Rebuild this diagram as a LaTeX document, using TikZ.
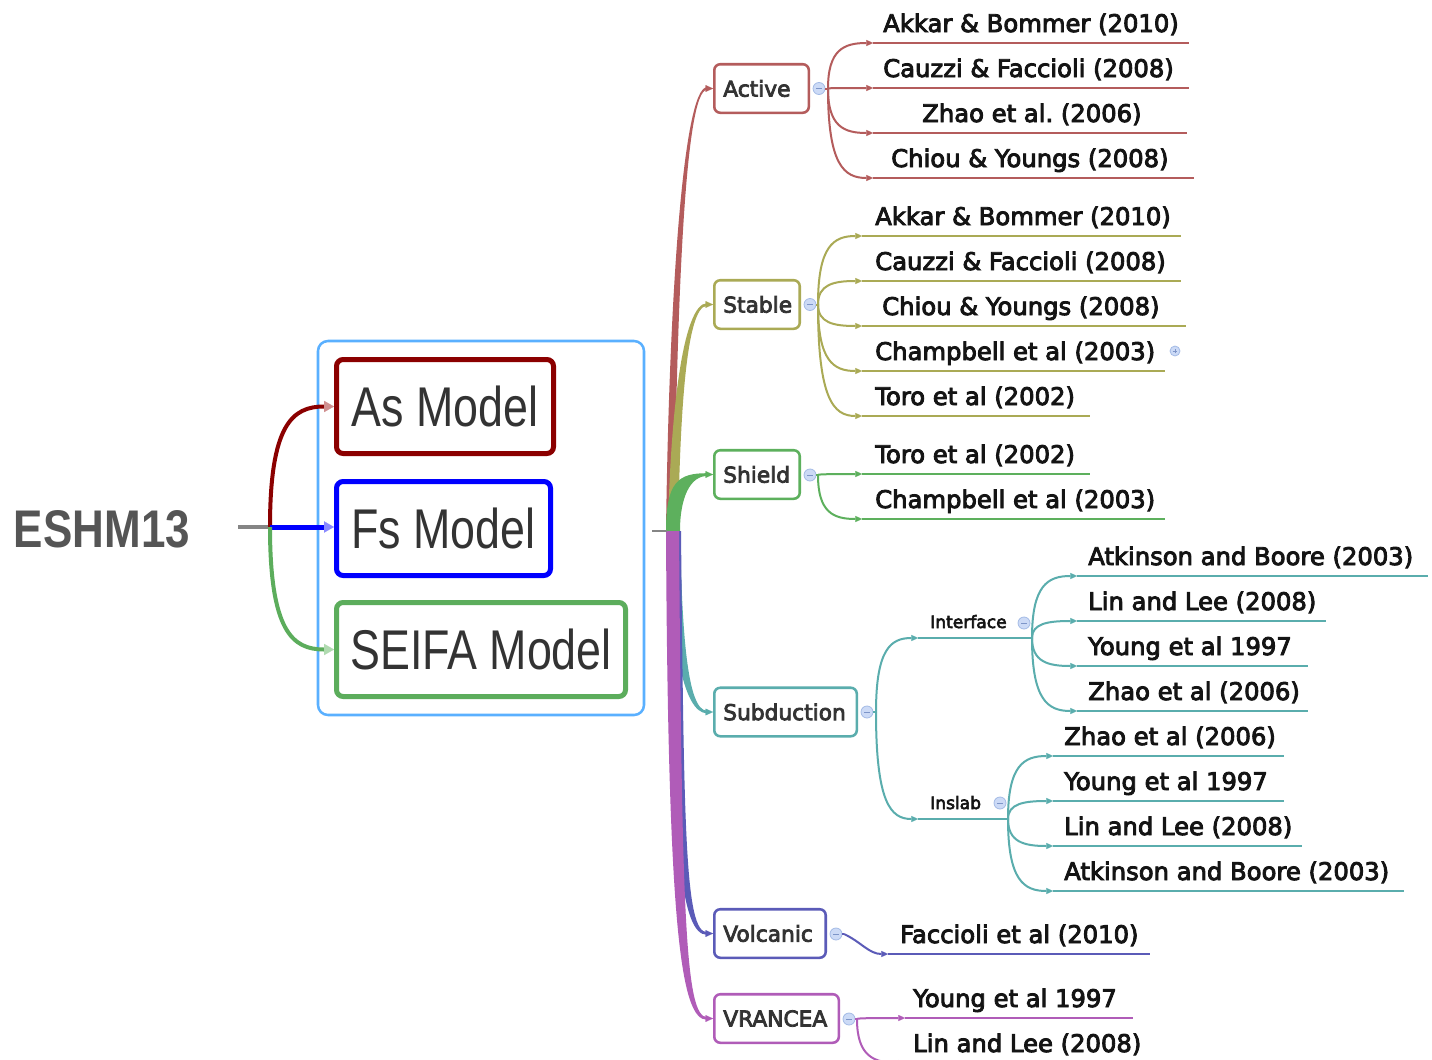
\documentclass[tikz,border=0pt]{standalone}
\usepackage{fontspec}
\usetikzlibrary{arrows.meta,calc,fit}
\newfontfamily\leaffont[FakeBold=3.6]{DejaVu Sans}
\newfontfamily\arialfont{Liberation Sans}
\frenchspacing

\definecolor{cA}{HTML}{B45C5C}
\definecolor{cS}{HTML}{AAAA55}
\definecolor{cSh}{HTML}{5DB05D}
\definecolor{cT}{HTML}{5AADAD}
\definecolor{cV}{HTML}{5B5BB8}
\definecolor{cVr}{HTML}{B05CB8}
\definecolor{dred}{HTML}{8B0000}
\definecolor{lred}{HTML}{D09090}
\definecolor{pblue}{HTML}{0000FF}
\definecolor{lblue}{HTML}{8A8AFF}
\definecolor{mgreen}{HTML}{5CAD5C}
\definecolor{lgreen}{HTML}{B0DAB0}
\definecolor{cBound}{HTML}{5AB0FF}
\definecolor{btnfill}{HTML}{CCDAF6}
\definecolor{btndraw}{HTML}{A4BBE6}
\definecolor{btnmark}{HTML}{7D95C8}
\definecolor{inkleaf}{HTML}{141414}
\definecolor{inknode}{HTML}{333333}
\definecolor{rootink}{HTML}{555555}
\definecolor{stubgray}{HTML}{858585}

\tikzset{
  bendto/.style={to path={.. controls ($(\tikztostart)!0.85!(\tikztostart|-\tikztotarget)$) and ($(\tikztotarget)!0.65!(\tikztostart|-\tikztotarget)$) .. (\tikztotarget)}},
  leaftip/.style={-{Triangle[length=5pt,width=4.6pt,line width=0.1pt]}},
  conn/.style={line width=1.5pt, leaftip},
  plainconn/.style={line width=1.5pt},
  leafline/.style={line width=1.9pt},
  leaftext/.style={font=\leaffont\fontsize{18.2}{21}\selectfont, text=inkleaf, inner sep=0pt},
  subtext/.style={font=\leaffont\fontsize{12.8}{15}\selectfont, text=inkleaf, inner sep=0pt},
  topic/.style={draw=#1, line width=1.9pt, rounded corners=4.5pt, fill=white,
    minimum height=36.4pt, inner xsep=6.75pt, inner ysep=0pt, align=left,
    font=\leaffont\fontsize{16.3}{19}\selectfont, text=inknode, anchor=west},
  btn/.style={circle, draw=btndraw, fill=btnfill, line width=0.6pt, minimum size=9pt, inner sep=0pt,
    path picture={\draw[btnmark, line width=0.6pt]
      ([xshift=-2.2pt]path picture bounding box.center) -- ([xshift=2.2pt]path picture bounding box.center);}},
  btnplus/.style={circle, draw=btndraw, fill=btnfill, line width=0.6pt, minimum size=7.5pt, inner sep=0pt,
    path picture={\draw[btnmark, line width=0.6pt]
      ([xshift=-1.8pt]path picture bounding box.center) -- ([xshift=1.8pt]path picture bounding box.center)
      ([yshift=-1.8pt]path picture bounding box.center) -- ([yshift=1.8pt]path picture bounding box.center);}},
  model/.style={draw=#1, line width=3.75pt, rounded corners=5pt, fill=white,
    minimum height=70.5pt, inner xsep=0pt, anchor=west,
    font=\arialfont\fontsize{42}{48}\selectfont, text=inknode},
  modeltip/.style={-{Triangle[length=7.5pt,width=8.5pt,line width=0.1pt,color=#1]}},
  branchtip/.style={-{Triangle[length=5.5pt,width=5pt,line width=0.1pt]}},
}

% one reference entry: arrow tip, underline, connector from the junction, title
\newcommand\mkleaf[8]{%
  \coordinate (#1) at (#4,#5);
  \draw[#2,leafline] (#1) -- ++(#6,0) coordinate (#1e);
  \draw[#2,conn] (#3) to[bendto] (#1);
  \node[leaftext,anchor=base west] (#1t) at (#7,#5-11) {#8};
}

\begin{document}
\begin{tikzpicture}[x=0.75pt,y=-0.75pt]
\fill[white] (0,0) rectangle (1432,1060);
\useasboundingbox (0,0) rectangle (1432,1060);

% ---------------- root and model boundary ----------------
\node[font=\arialfont\bfseries\fontsize{39.75}{44}\selectfont, text=rootink, inner sep=0pt]
  (root) at (102,529) {\scalebox{0.83}[1]{ESHM13}};
\coordinate (rootout) at (238,527);
\coordinate (jl) at (270,527);

\node[model=dred,   minimum width=162.75pt] (asm)   at (334,406.5) {\scalebox{0.8}[1]{As Model}};
\node[model=pblue,  minimum width=160.5pt]  (fsm)   at (334,528.5) {\scalebox{0.8}[1]{Fs Model}};
\node[model=mgreen, minimum width=216.75pt] (seifa) at (334,649.5) {\scalebox{0.8}[1]{SEIFA Model}};
\node[draw=cBound, line width=1.9pt, rounded corners=7.5pt, inner sep=12pt, fit=(asm)(fsm)(seifa)] (bound) {};

\draw[stubgray, line width=3pt] (rootout) -- (jl);
\draw[dred, line width=3pt, modeltip=lred] (jl) to[bendto] (asm.west);
\draw[pblue, line width=3.75pt, modeltip=lblue] (jl) -- (fsm.west |- jl);
\draw[mgreen, line width=3pt, modeltip=lgreen] (jl) to[bendto] (seifa.west);

% ---------------- main topics ----------------
\node[topic=cA,  text width=57.4pt] (active) at (713,88.5)  {Active};
\node[topic=cS,  text width=50.6pt] (stable) at (713,304.5) {Stable};
\node[topic=cSh, text width=50.6pt] (shield) at (713,474.5) {Shield};
\node[topic=cT,  text width=93.4pt] (sub)    at (713,712)   {Subduction};
\node[topic=cV,  text width=70.1pt] (volc)   at (713,933.5) {Volcanic};
\node[topic=cVr, text width=79.9pt] (vran)   at (713,1018.5){VRANCEA};

\coordinate (stub) at (652,531);
\coordinate (trunk) at (673,531);

% tapered branches, upper bundle
\fill[cA] ($(trunk)+(-7,0)$) .. controls +(3,-230) and +(-24,0) .. ($(active.west)+(-6,-1.3)$)
  -- ($(active.west)+(-6,1.3)$) .. controls +(-22,0) and +(3,-230) .. ($(trunk)+(1,0)$) -- cycle;
\fill[cS] ($(trunk)+(-5,0)$) .. controls +(2,-110) and +(-25,0) .. ($(stable.west)+(-6,-1.3)$)
  -- ($(stable.west)+(-6,1.3)$) .. controls +(-22,0) and +(2,-105) .. ($(trunk)+(5,0)$) -- cycle;
\fill[cSh] ($(trunk)+(-7,0)$) .. controls +(0,-50) and +(-28,0) .. ($(shield.west)+(-6,-1.3)$)
  -- ($(shield.west)+(-6,1.5)$) .. controls +(-16,0) and +(0,-35) .. ($(trunk)+(7,0)$) -- cycle;
% tapered branches, lower bundle
\fill[cT] ($(trunk)+(-5,0)$) .. controls +(2,110) and +(-24,0) .. ($(sub.west)+(-6,1.3)$)
  -- ($(sub.west)+(-6,-1.3)$) .. controls +(-20,0) and +(2,100) .. ($(trunk)+(7,0)$) -- cycle;
\fill[cV] ($(trunk)+(-5,0)$) .. controls +(3,320) and +(-26,0) .. ($(volc.west)+(-6,1.3)$)
  -- ($(volc.west)+(-6,-1.3)$) .. controls +(-22,0) and +(3,300) .. ($(trunk)+(8,0)$) -- cycle;
\fill[cVr] ($(trunk)+(-7,0)$) .. controls +(2,400) and +(-26,0) .. ($(vran.west)+(-6,1.3)$)
  -- ($(vran.west)+(-6,-1.3)$) .. controls +(-22,0) and +(3,380) .. ($(trunk)+(6,0)$) -- cycle;

\draw[stubgray, line width=1.5pt] (stub) -- ($(trunk)+(-6,0)$);

\foreach \nd/\cl in {active/cA, stable/cS, shield/cSh, sub/cT, volc/cV, vran/cVr}
  \draw[\cl, line width=1.6pt, branchtip] ($(\nd.west)+(-7,0)$) -- (\nd.west);

% ---------------- collapse buttons and junctions ----------------
\node[btn] (bA)  at (819,88.5) {};
\node[btn] (bS)  at (810,304.5) {};
\node[btn] (bSh) at (810,475) {};
\node[btn] (bT)  at (867,712) {};
\node[btn] (bV)  at (836,934) {};
\node[btn] (bVr) at (849,1019) {};
\coordinate (jA)  at (828,88.5);
\coordinate (jS)  at (818,304.5);
\coordinate (jSh) at (818,475);
\coordinate (jT)  at (876,712);
\coordinate (jV)  at (844,934);
\coordinate (jVr) at (857,1019);
\draw[cA,plainconn]  (bA.east)  -- (jA);
\draw[cS,plainconn]  (bS.east)  -- (jS);
\draw[cSh,plainconn] (bSh.east) -- (jSh);
\draw[cT,plainconn]  (bT.east)  -- (jT);
\draw[cV,plainconn]  (bV.east)  -- (jV);
\draw[cVr,plainconn] (bVr.east) -- (jVr);

% ---------------- Active ----------------
\mkleaf{a1}{cA}{jA}{873}{43}{316}{883}{Akkar \& Bommer (2010)}
\mkleaf{a2}{cA}{jA}{873}{88}{316}{883}{Cauzzi \& Faccioli (2008)}
\mkleaf{a3}{cA}{jA}{873}{133}{314}{922}{Zhao et al. (2006)}
\mkleaf{a4}{cA}{jA}{873}{178}{321}{891}{Chiou \& Youngs (2008)}

% ---------------- Stable ----------------
\mkleaf{s1}{cS}{jS}{862}{236}{319}{875}{Akkar \& Bommer (2010)}
\mkleaf{s2}{cS}{jS}{862}{281}{319}{875}{Cauzzi \& Faccioli (2008)}
\mkleaf{s3}{cS}{jS}{862}{326}{324}{882}{Chiou \& Youngs (2008)}
\mkleaf{s4}{cS}{jS}{862}{371}{303}{875}{Champbell et al (2003)}
\mkleaf{s5}{cS}{jS}{862}{416}{228}{875}{Toro et al (2002)}
\node[btnplus] (bCh) at (1175,351) {};

% ---------------- Shield ----------------
\mkleaf{h1}{cSh}{jSh}{862}{474}{228}{875}{Toro et al (2002)}
\mkleaf{h2}{cSh}{jSh}{862}{519}{303}{875}{Champbell et al (2003)}

% ---------------- Subduction ----------------
\coordinate (if) at (918,638);
\draw[cT,leafline] (if) -- (1032,638) coordinate (jIf);
\draw[cT,conn] (jT) to[bendto] (if);
\node[subtext,anchor=base west] (ift) at (930,628) {Interface};
\node[btn] (bIf) at (1024,623) {};

\coordinate (in) at (918,819);
\draw[cT,leafline] (in) -- (1008,819) coordinate (jIn);
\draw[cT,conn] (jT) to[bendto] (in);
\node[subtext,anchor=base west] (int) at (930,809) {Inslab};
\node[btn] (bIn) at (1000,803) {};

\mkleaf{f1}{cT}{jIf}{1077}{576}{351}{1088}{Atkinson and Boore (2003)}
\mkleaf{f2}{cT}{jIf}{1077}{621}{249}{1088}{Lin and Lee (2008)}
\mkleaf{f3}{cT}{jIf}{1077}{666}{231}{1088}{Young et al 1997}
\mkleaf{f4}{cT}{jIf}{1077}{711}{231}{1088}{Zhao et al (2006)}

\mkleaf{n1}{cT}{jIn}{1053}{756}{231}{1064}{Zhao et al (2006)}
\mkleaf{n2}{cT}{jIn}{1053}{801}{231}{1064}{Young et al 1997}
\mkleaf{n3}{cT}{jIn}{1053}{846}{249}{1064}{Lin and Lee (2008)}
\mkleaf{n4}{cT}{jIn}{1053}{891}{351}{1064}{Atkinson and Boore (2003)}

% ---------------- Volcanic ----------------
\coordinate (v1) at (888,954);
\draw[cV,leafline] (v1) -- ++(262,0) coordinate (v1e);
\draw[cV,conn] (jV) to[out=-25,in=180] (v1);
\node[leaftext,anchor=base west] (v1t) at (900,943) {Faccioli et al (2010)};

% ---------------- VRANCEA ----------------
\mkleaf{r1}{cVr}{jVr}{905}{1018}{228}{913}{Young et al 1997}
\mkleaf{r2}{cVr}{jVr}{905}{1063}{236}{913}{Lin and Lee (2008)}

\end{tikzpicture}
\end{document}
